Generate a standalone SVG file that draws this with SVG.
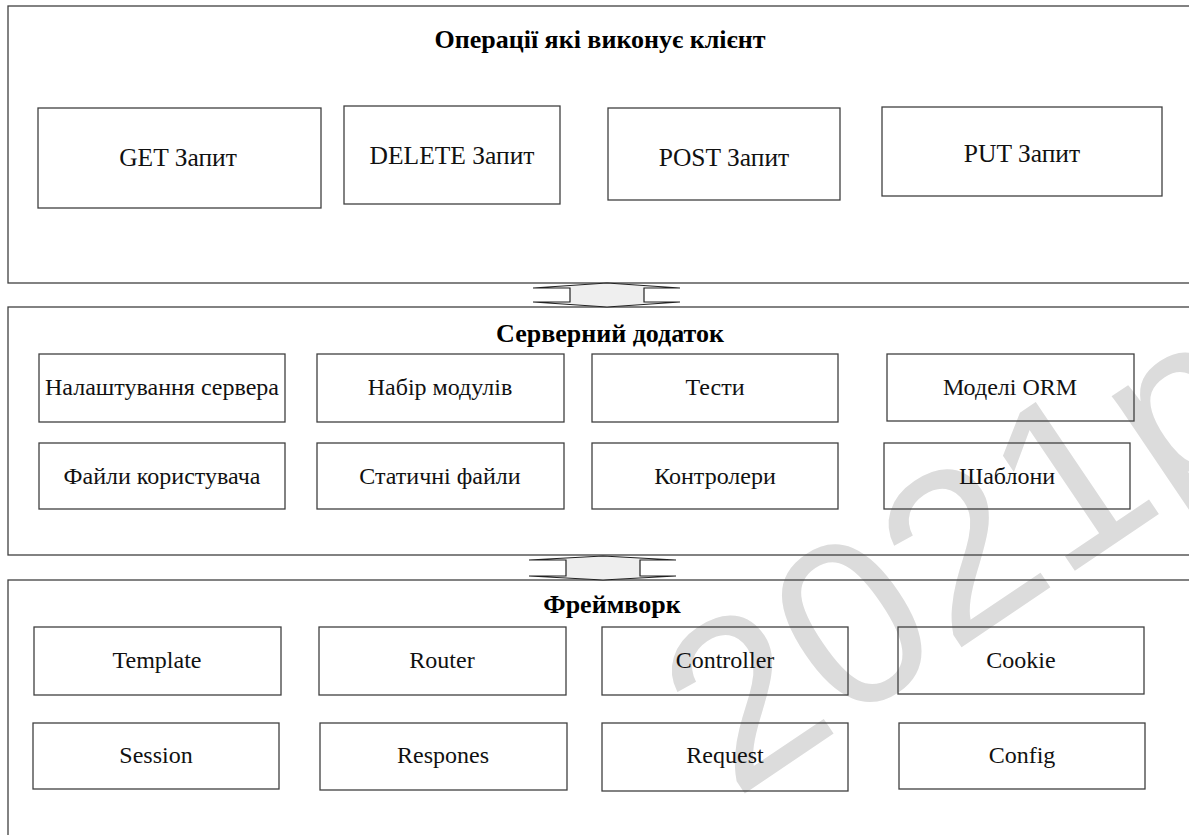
<svg xmlns="http://www.w3.org/2000/svg" width="1189" height="835" viewBox="0 0 1189 835">
<style>
.sec{fill:none;stroke:#404040;stroke-width:1.3}
.box{fill:none;stroke:#404040;stroke-width:1.3}
.t1{font-family:"Liberation Serif",serif;font-size:25.5px;fill:#111;text-anchor:middle;dominant-baseline:central}
.t2{font-family:"Liberation Serif",serif;font-size:24px;fill:#111;text-anchor:middle;dominant-baseline:central}
.ttl{font-family:"Liberation Serif",serif;font-size:26px;font-weight:bold;fill:#000;text-anchor:middle;dominant-baseline:central}
.arr{fill:#efefef;stroke:#222;stroke-width:1.2;stroke-linejoin:miter}
.wm{font-family:"Liberation Sans",sans-serif;font-size:235px;fill:#dcdcdc}
</style>
<rect width="1189" height="835" fill="#fff"/>
<text class="wm" transform="translate(735,800) rotate(-34)">2021рік</text>
<g id="client">
<rect class="sec" x="8" y="6" width="1190" height="277"/>
<text class="ttl" x="600" y="39">Операції які виконує клієнт</text>
</g>
<g id="get"><rect class="box" x="38" y="108" width="283" height="100"/><text class="t1" x="178" y="157">GET Запит</text></g>
<g id="delete"><rect class="box" x="344" y="106" width="216" height="98"/><text class="t1" x="452" y="155">DELETE Запит</text></g>
<g id="post"><rect class="box" x="608" y="108" width="232" height="92"/><text class="t1" x="724" y="157">POST Запит</text></g>
<g id="put"><rect class="box" x="882" y="107" width="280" height="89"/><text class="t1" x="1022" y="153">PUT Запит</text></g>

<g id="server">
<rect class="sec" x="8" y="307" width="1190" height="248"/>
<text class="ttl" x="610" y="333">Серверний додаток</text>
</g>
<g id="n-settings"><rect class="box" x="39" y="354" width="246" height="68"/><text class="t2" x="162" y="387">Налаштування сервера</text></g>
<g id="n-modules"><rect class="box" x="317" y="354" width="247" height="68"/><text class="t2" x="440" y="387">Набір модулів</text></g>
<g id="n-tests"><rect class="box" x="592" y="354" width="246" height="68"/><text class="t2" x="715" y="387">Тести</text></g>
<g id="n-orm"><rect class="box" x="887" y="354" width="247" height="67"/><text class="t2" x="1010" y="387">Моделі ORM</text></g>
<g id="n-userfiles"><rect class="box" x="39" y="443" width="246" height="66"/><text class="t2" x="162" y="476">Файли користувача</text></g>
<g id="n-static"><rect class="box" x="317" y="443" width="247" height="66"/><text class="t2" x="440" y="476">Статичні файли</text></g>
<g id="n-controllers"><rect class="box" x="592" y="443" width="246" height="66"/><text class="t2" x="715" y="476">Контролери</text></g>
<g id="n-templates"><rect class="box" x="884" y="443" width="246" height="66"/><text class="t2" x="1007" y="476">Шаблони</text></g>

<g id="framework">
<rect class="sec" x="8" y="580" width="1190" height="270"/>
<text class="ttl" x="612" y="604">Фреймворк</text>
</g>
<g id="f-template"><rect class="box" x="34" y="627" width="247" height="68"/><text class="t2" x="157" y="660">Template</text></g>
<g id="f-router"><rect class="box" x="319" y="627" width="247" height="68"/><text class="t2" x="442" y="660">Router</text></g>
<g id="f-controller"><rect class="box" x="602" y="627" width="246" height="68"/><text class="t2" x="725" y="660">Controller</text></g>
<g id="f-cookie"><rect class="box" x="898" y="627" width="246" height="67"/><text class="t2" x="1021" y="660">Cookie</text></g>
<g id="f-session"><rect class="box" x="33" y="723" width="246" height="66"/><text class="t2" x="156" y="755">Session</text></g>
<g id="f-respones"><rect class="box" x="320" y="723" width="247" height="67"/><text class="t2" x="443" y="755">Respones</text></g>
<g id="f-request"><rect class="box" x="602" y="723" width="246" height="68"/><text class="t2" x="725" y="755">Request</text></g>
<g id="f-config"><rect class="box" x="899" y="723" width="246" height="66"/><text class="t2" x="1022" y="755">Config</text></g>

<g id="connectors">
<polygon class="arr" points="607,283 680,288 644,288 644,302 680,302 607,307 533,302 570,302 570,288 533,288"/>
<polygon class="arr" points="603,556 676,560 640,560 640,576 676,576 603,580 529,576 566,576 566,560 529,560"/>
</g>
</svg>
